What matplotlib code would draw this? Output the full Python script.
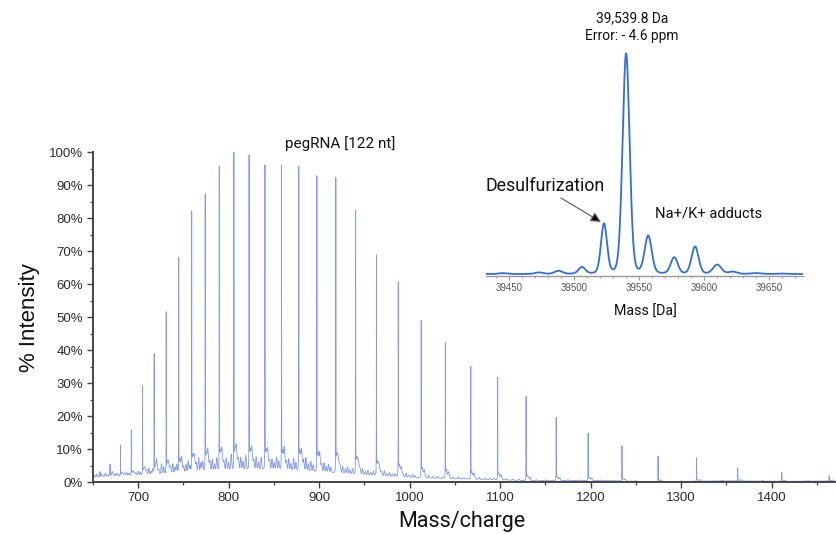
import numpy as np
import matplotlib
matplotlib.use("Agg")
import matplotlib.pyplot as plt
from matplotlib.ticker import MultipleLocator, FuncFormatter

# ---------------- data ----------------
# Deconvolved neutral mass of the pegRNA (Da)
neutral_mass = 39539.8
proton = 1.00728

# Charge states observed in the m/z spectrum and their relative intensities (%)
charge_states = [27, 28, 29, 30, 31, 32, 33, 34, 35, 36, 37, 38, 39, 40, 41, 42, 43,
                 44, 45, 46, 47, 48, 49, 50, 51, 52, 53, 54, 55, 56, 57, 58, 59, 60]
charge_intensity = [2.0, 3.0, 4.4, 7.4, 8.0, 11.1, 15.0, 19.7, 26.0, 31.8, 35.2, 42.3,
                    49.0, 60.8, 68.9, 82.5, 92.4, 92.9, 95.8, 96.2, 96.2, 99.2, 100.0,
                    95.8, 87.4, 82.2, 68.1, 51.7, 39.0, 29.2, 15.8, 11.3, 5.5, 3.2]

# Broad chemical background underneath the charge envelope (m/z, %)
background_mz = [660, 720, 790, 860, 930, 1000, 1080, 1200, 1350, 1470]
background_level = [1.0, 1.3, 2.5, 2.6, 1.6, 0.9, 0.7, 0.5, 0.4, 0.35]

# Small background peaks (m/z, %)
noise_mz = [651.5, 654, 656.5, 659, 661.5, 664, 666, 668.5, 671.5, 673.5, 676, 678,
            683, 685.5, 687.5, 690, 695, 697.5, 700, 702.5, 707.5, 709.5, 712, 714.5,
            716.5, 720.5, 723, 726, 728.5, 733.5, 736, 738.5,
            741, 743, 748, 750.5, 753, 755.5, 757.5, 762, 764.5, 767, 769.5, 771.5,
            777, 779.5, 782, 784.5, 787, 792.5, 795, 797.5, 800, 803, 808.5, 811,
            813.5, 816, 819, 825.5, 828, 830.5, 833, 836, 843, 845.5, 848, 850.5,
            853, 855.5, 861.5, 864, 866.5, 869, 872, 874.5, 880.5, 883, 885.5, 888,
            891, 893.5, 900.5, 903, 905.5, 908, 910.5, 913,
            921, 923.5, 926, 929, 931.5, 934, 937, 943, 945.5, 948, 951, 954, 957,
            960, 966, 969, 972, 975, 978, 981, 984, 990.5, 993, 996, 999, 1003, 1006,
            1016, 1021, 1026, 1031, 1036, 1043, 1048, 1054, 1060, 1064, 1071, 1077,
            1083, 1089, 1093, 1101, 1107, 1114, 1121, 1133, 1140, 1150, 1166, 1175,
            1188, 1201, 1212, 1238, 1250, 1278, 1300, 1321, 1345, 1366, 1390, 1415,
            1440, 1467]
noise_level = [0.6, 1.0, 0.5, 0.9, 0.4, 1.2, 0.6, 0.8, 1.4, 0.5, 0.9, 0.6,
               0.8, 0.5, 1.1, 0.7, 0.9, 0.6, 1.2, 0.8, 1.5, 0.9, 1.9, 1.0,
               1.6, 3.6, 1.2, 3.0, 2.0, 2.4, 1.6, 2.8,
               1.8, 2.6, 3.0, 1.8, 2.4, 3.4, 2.0, 3.2, 2.2, 4.2, 2.6, 3.0,
               4.6, 2.6, 3.4, 2.0, 3.8, 4.4, 2.4, 3.6, 2.2, 4.6, 5.0, 2.8,
               3.6, 2.4, 4.2, 4.4, 2.6, 3.8, 2.2, 3.6, 4.0, 2.4, 3.2, 2.0,
               3.8, 2.6, 4.4, 2.6, 3.4, 2.0, 3.6, 2.4, 4.2, 3.0, 4.0, 2.2,
               3.0, 2.0, 3.6, 2.2, 2.8, 1.8, 2.4, 1.6,
               3.0, 1.6, 2.2, 1.4, 2.0, 1.2, 1.6, 2.6, 1.4, 1.8, 1.0, 1.4, 0.9,
               1.2, 2.0, 1.2, 1.6, 0.8, 1.1, 0.7, 0.9, 1.4, 0.8, 1.2, 0.6, 0.8, 0.6,
               0.9, 0.8, 0.5, 0.6, 0.4, 0.8, 0.5, 0.6, 0.4, 0.3, 0.7, 0.5,
               0.4, 0.5, 0.4, 0.6, 0.4, 0.3, 0.4, 0.5, 0.3, 0.3, 0.4, 0.3,
               0.2, 0.4, 0.2, 0.3, 0.2, 0.3, 0.2, 0.3, 0.2, 0.3, 0.2, 0.2,
               0.2, 0.3]

# Deconvolved mass spectrum components (Da, relative %)
deconv_mass = [39445, 39473, 39488, 39506, 39523, 39540, 39557, 39577, 39593, 39610,
               39622, 39640, 39660]
deconv_intensity = [0.4, 0.7, 1.4, 3.0, 22.5, 100.0, 17.0, 7.4, 12.4, 4.2, 1.0, 0.4, 0.2]
deconv_width = [3.0, 3.0, 3.0, 2.6, 2.3, 2.7, 2.7, 2.7, 2.7, 3.2, 3.2, 4.0, 4.0]

main_xticks = [700, 800, 900, 1000, 1100, 1200, 1300, 1400]
inset_xticks = [39450, 39500, 39550, 39600, 39650]

# ---------------- spectrum profiles ----------------
peak_mz = np.array([(neutral_mass - z * proton) / z for z in charge_states])
peak_h = np.array(charge_intensity)

grid = np.union1d(np.arange(650.0, 1471.0, 0.04), peak_mz)


def underlying(x):
    """Background + noise + peak tails (everything except the sharp apexes)."""
    y = np.zeros_like(x)
    for mz0, h in zip(background_mz, background_level):
        y += h * np.exp(-0.5 * ((x - mz0) / 45.0) ** 2)
    for mz0, h in zip(noise_mz, noise_level):
        y += h * np.exp(-0.5 * ((x - mz0) / 0.55) ** 2)
    for mz0, h in zip(peak_mz, peak_h):
        y += 0.06 * h * np.exp(-0.5 * ((x - mz0 - 1.2) / 0.7) ** 2)
        y += 0.03 * h * np.exp(-0.5 * ((x - mz0 - 3.5) / 0.9) ** 2)
    return y


spectrum = underlying(grid)
# apex heights so that the total at each charge state equals its read intensity
apex = np.clip(peak_h - underlying(peak_mz), 0, None)
for mz0, a in zip(peak_mz, apex):
    near = np.abs(grid - mz0) < 3
    spectrum[near] += a / (1.0 + ((grid[near] - mz0) / 0.07) ** 2)

mass_grid = np.arange(39430.0, 39678.0, 0.25)
deconv = np.full_like(mass_grid, 0.2)
for m0, h, s in zip(deconv_mass, deconv_intensity, deconv_width):
    hwhm = 1.1774 * s
    deconv += h * (0.85 * np.exp(-0.5 * ((mass_grid - m0) / s) ** 2)
                   + 0.15 / (1.0 + ((mass_grid - m0) / hwhm) ** 2))

# ---------------- figure ----------------
W, H = 836, 534
fig = plt.figure(figsize=(W / 100, H / 100), dpi=100)

narrow = ["Roboto", "DejaVu Sans"]
regular = ["Liberation Sans", "DejaVu Sans"]
dark = "#2b2b2b"

ax = fig.add_axes([92.7 / W, 1 - 482.3 / H, (W - 92.7) / W, 330.0 / H])
ax.plot(grid, spectrum, color="#5577f0", lw=0.6, alpha=0.75, clip_on=False)
ax.set_xlim(650, 1471)
ax.set_ylim(0, 100)
for side in ("top", "right"):
    ax.spines[side].set_visible(False)
for side in ("left", "bottom"):
    ax.spines[side].set_color("#444444")
    ax.spines[side].set_linewidth(1.4)
ax.yaxis.set_major_locator(MultipleLocator(10))
ax.yaxis.set_minor_locator(MultipleLocator(5))
ax.yaxis.set_major_formatter(FuncFormatter(lambda v, p: f"{v:.0f}%"))
ax.set_xticks(main_xticks)
ax.xaxis.set_minor_locator(MultipleLocator(50))
ax.tick_params(which="major", length=4, width=1.0, color="#444444",
               labelsize=9.5, labelcolor=dark, pad=3)
ax.tick_params(which="minor", length=2.5, width=0.9, color="#444444")
for lab in ax.get_xticklabels() + ax.get_yticklabels():
    lab.set_family(regular)

fig.text(30 / W, 1 - 318 / H, "% Intensity", rotation=90, ha="center", va="center",
         fontsize=16, color="#111111", family=regular)
fig.text(462 / W, 1 - 522 / H, "Mass/charge", ha="center", va="center",
         fontsize=15.5, color="#111111", family=narrow)
fig.text(340 / W, 1 - 144 / H, "pegRNA [122 nt]", ha="center", va="center",
         fontsize=11, color="#111111", family=narrow)

# ---------------- inset: deconvolved mass ----------------
ins = fig.add_axes([486 / W, 1 - 276 / H, (803 - 486) / W, 226 / H])
ins.patch.set_alpha(0)
ins.plot(mass_grid, deconv, color="#2f6ee0", lw=1.3)
ins.set_xlim(39432.3, 39676)
ins.set_ylim(-0.68, 101.95)
for side in ("top", "right", "left"):
    ins.spines[side].set_visible(False)
ins.spines["bottom"].set_color("#9a9a9a")
ins.spines["bottom"].set_linewidth(1.0)
ins.set_yticks([])
ins.set_xticks(inset_xticks)
ins.xaxis.set_minor_locator(MultipleLocator(10))
ins.tick_params(axis="x", which="major", length=3, color="#9a9a9a",
                labelsize=7, labelcolor="#555555", pad=2)
ins.tick_params(axis="x", which="minor", length=1.5, color="#9a9a9a")
for lab in ins.get_xticklabels():
    lab.set_family(regular)

fig.text(645 / W, 1 - 312 / H, "Mass [Da]", ha="center", va="center",
         fontsize=10.3, color="#111111", family=narrow)
fig.text(632 / W, 1 - 18 / H, "39,539.8 Da", ha="center", va="center",
         fontsize=9.9, color="#111111", family=narrow)
fig.text(632 / W, 1 - 36 / H, "Error: - 4.6 ppm", ha="center", va="center",
         fontsize=9.9, color="#111111", family=narrow)
fig.text(545 / W, 1 - 186 / H, "Desulfurization", ha="center", va="center",
         fontsize=12.8, color="#111111", family=narrow)
fig.text(709 / W, 1 - 213 / H, "Na+/K+ adducts", ha="center", va="center",
         fontsize=10.6, color="#111111", family=narrow)
fig.add_artist(plt.Annotation("", xy=(601 / W, 1 - 222 / H), xytext=(561 / W, 1 - 198 / H),
                              xycoords="figure fraction", textcoords="figure fraction",
                              arrowprops=dict(arrowstyle="-|>,head_length=0.6,head_width=0.3",
                                              color="#666666", lw=0.9, fc="black",
                                              shrinkA=0, shrinkB=0)))

fig.savefig("out.png", dpi=100)
